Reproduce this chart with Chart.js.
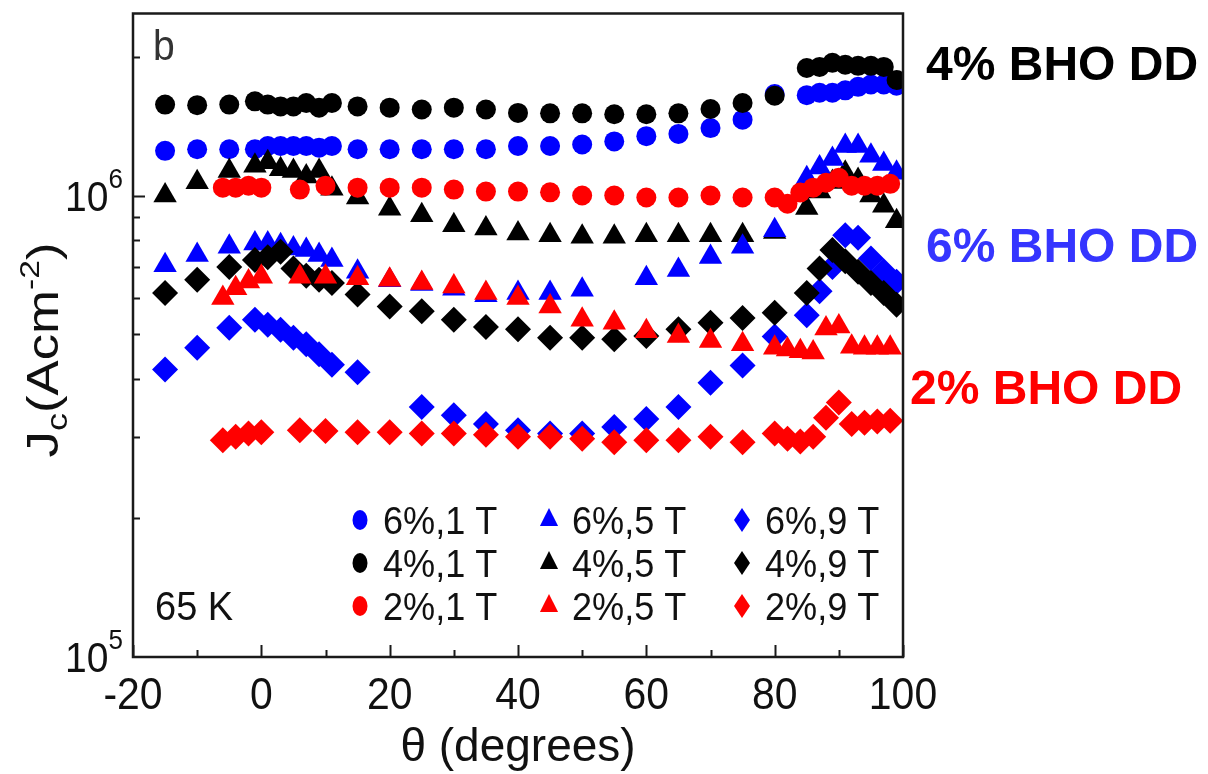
<!DOCTYPE html>
<html>
<head>
<meta charset="utf-8">
<script src="https://cdn.jsdelivr.net/npm/chart.js@4.4.1/dist/chart.umd.min.js"></script>
<style>
  html, body { margin: 0; padding: 0; background: #fff; }
  #wrap { width: 1208px; height: 774px; }
</style>
</head>
<body>
<div id="wrap"><canvas id="c" width="1208" height="774"></canvas></div>
<script>
// angle grids (degrees) and Jc values (A/cm^2)
const theta_6_1 = [-15,-10,-5,-1,1,3,5,7,9,11,15,20,25,30,35,40,45,50,55,60,65,70,75,80,85,87,89,91,93,95,97,99];
const jc_6_1 = [1.25e6,1.26e6,1.26e6,1.26e6,1.28e6,1.28e6,1.28e6,1.28e6,1.27e6,1.28e6,1.26e6,1.26e6,1.26e6,1.26e6,1.26e6,1.28e6,1.28e6,1.29e6,1.31e6,1.345e6,1.36e6,1.40e6,1.46e6,1.66e6,1.65e6,1.67e6,1.67e6,1.69e6,1.72e6,1.74e6,1.74e6,1.73e6];

const theta_6_5 = [-15,-10,-5,-1,1,3,5,7,9,11,15,20,25,30,35,40,45,50,60,65,70,75,80,85,87,89,91,93,95,97,99];
const jc_6_5 = [7.06e5,7.43e5,7.74e5,7.87e5,7.87e5,7.80e5,7.68e5,7.62e5,7.43e5,7.25e5,6.84e5,6.55e5,6.43e5,6.28e5,6.08e5,6.15e5,6.15e5,6.25e5,6.62e5,6.90e5,7.36e5,7.74e5,8.41e5,1.09e6,1.15e6,1.20e6,1.28e6,1.28e6,1.22e6,1.17e6,1.12e6];

const theta_6_9 = [-15,-10,-5,-1,1,3,5,7,9,11,15,25,30,35,40,45,50,55,60,65,70,75,80,85,87,89,91,93,95,97,99];
const jc_6_9 = [4.20e5,4.68e5,5.17e5,5.38e5,5.25e5,5.12e5,4.92e5,4.76e5,4.53e5,4.30e5,4.14e5,3.48e5,3.34e5,3.20e5,3.10e5,3.05e5,3.05e5,3.15e5,3.28e5,3.48e5,3.93e5,4.28e5,4.95e5,5.50e5,6.20e5,7.00e5,8.20e5,8.10e5,7.30e5,6.85e5,6.50e5];

const theta_4_1 = [-15,-10,-5,-1,1,3,5,7,9,11,15,20,25,30,35,40,45,50,55,60,65,70,75,80,85,87,89,91,93,95,97,99];
const jc_4_1 = [1.574e6,1.57e6,1.574e6,1.60e6,1.574e6,1.56e6,1.56e6,1.587e6,1.55e6,1.587e6,1.56e6,1.55e6,1.536e6,1.55e6,1.536e6,1.51e6,1.507e6,1.507e6,1.50e6,1.50e6,1.507e6,1.54e6,1.587e6,1.645e6,1.89e6,1.90e6,1.94e6,1.92e6,1.91e6,1.91e6,1.90e6,1.78e6];

const theta_4_5 = [-15,-10,-5,-1,1,3,5,7,9,11,15,20,25,30,35,40,45,50,55,60,65,70,75,80,85,87,89,91,93,95,97,99];
const jc_4_5 = [1.0e6,1.068e6,1.13e6,1.16e6,1.18e6,1.14e6,1.13e6,1.10e6,1.13e6,1.034e6,9.9e5,9.36e5,9.06e5,8.62e5,8.48e5,8.27e5,8.2e5,8.14e5,8.14e5,8.2e5,8.2e5,8.2e5,8.2e5,8.34e5,9.4e5,1.02e6,1.07e6,1.12e6,1.08e6,1.0e6,9.5e5,8.8e5];

const theta_4_9 = [-15,-10,-5,-1,1,3,5,7,9,11,15,20,25,30,35,40,45,50,55,60,65,70,75,80,85,87,89,91,93,95,97,99];
const jc_4_9 = [6.15e5,6.57e5,7.0e5,7.25e5,7.35e5,7.55e5,6.95e5,6.7e5,6.57e5,6.46e5,6.1e5,5.75e5,5.61e5,5.38e5,5.19e5,5.13e5,4.92e5,4.92e5,4.88e5,4.96e5,5.13e5,5.3e5,5.43e5,5.57e5,6.15e5,6.95e5,7.62e5,7.2e5,6.84e5,6.46e5,6.15e5,5.8e5];

const theta_2_1 = [-6,-4,-2,0,6,10,15,20,25,30,35,40,45,50,55,60,65,70,75,80,82,84,86,88,90,92,94,96,98];
const jc_2_1 = [1.04e6,1.04e6,1.05e6,1.04e6,1.03e6,1.05e6,1.04e6,1.04e6,1.04e6,1.03e6,1.02e6,1.02e6,1.016e6,1.0e6,1.0e6,9.9e5,9.9e5,1.0e6,9.9e5,9.9e5,9.6e5,1.015e6,1.04e6,1.066e6,1.093e6,1.05e6,1.05e6,1.05e6,1.06e6];

const theta_2_5 = [-6,-4,-2,0,6,10,15,20,25,30,35,40,45,50,55,60,65,70,75,80,82,84,86,88,90,92,94,96,98];
const jc_2_5 = [6.0e5,6.3e5,6.51e5,6.67e5,6.67e5,6.67e5,6.62e5,6.57e5,6.46e5,6.35e5,6.15e5,6.0e5,5.75e5,5.38e5,5.3e5,5.08e5,4.96e5,4.84e5,4.76e5,4.68e5,4.64e5,4.6e5,4.57e5,5.15e5,5.2e5,4.7e5,4.68e5,4.68e5,4.68e5];

const theta_2_9 = [-6,-4,-2,0,6,10,15,20,25,30,35,40,45,50,55,60,65,70,75,80,82,84,86,88,90,92,94,96,98];
const jc_2_9 = [2.95e5,3.0e5,3.05e5,3.07e5,3.1e5,3.09e5,3.07e5,3.07e5,3.05e5,3.05e5,3.03e5,3.0e5,3.0e5,2.97e5,2.92e5,2.95e5,2.95e5,3.0e5,2.92e5,3.05e5,2.97e5,2.93e5,3.0e5,3.3e5,3.56e5,3.2e5,3.22e5,3.24e5,3.25e5];

const xTickLabels = ['-20', '0', '20', '40', '60', '80', '100'];
const seriesLabels = ['6%,1 T', '6%,5 T', '6%,9 T', '4%,1 T', '4%,5 T', '4%,9 T', '2%,1 T', '2%,5 T', '2%,9 T'];
const sampleLabels = ['4% BHO DD', '6% BHO DD', '2% BHO DD'];

const BLUE = '#0000ff', BLACK = '#000000', RED = '#ff0000';
const FONT = '"Liberation Sans", Arial, Helvetica, sans-serif';

function pts(xs, ys) {
  return xs.map((x, i) => ({ x: x, y: ys[i] }));
}

// style for each marker shape: [pointStyle, radius in plot, legend radius, legend width]
const shapes = {
  circle: ['circle', 10, 10, 15],
  triangle: ['triangle', 13.5, 12, 21],
  diamond: ['rectRot', 13, 12, 16]
};

function series(label, xs, ys, color, shape, order) {
  const s = shapes[shape];
  return {
    label: label,
    data: pts(xs, ys),
    showLine: false,
    pointStyle: s[0],
    pointRadius: s[1],
    pointHoverRadius: s[1],
    pointBorderWidth: 0,
    backgroundColor: color,
    borderColor: color,
    clip: 0,
    order: order,
    legendRadius: s[2],
    legendWidth: s[3]
  };
}

// lower order is drawn on top
const datasets = [
  series(seriesLabels[0], theta_6_1, jc_6_1, BLUE, 'circle', 9),
  series(seriesLabels[1], theta_6_5, jc_6_5, BLUE, 'triangle', 6),
  series(seriesLabels[2], theta_6_9, jc_6_9, BLUE, 'diamond', 5),
  series(seriesLabels[3], theta_4_1, jc_4_1, BLACK, 'circle', 8),
  series(seriesLabels[4], theta_4_5, jc_4_5, BLACK, 'triangle', 7),
  series(seriesLabels[5], theta_4_9, jc_4_9, BLACK, 'diamond', 4),
  series(seriesLabels[6], theta_2_1, jc_2_1, RED, 'circle', 3),
  series(seriesLabels[7], theta_2_5, jc_2_5, RED, 'triangle', 2),
  series(seriesLabels[8], theta_2_9, jc_2_9, RED, 'diamond', 1)
];

// draw a run of text pieces (sub/superscripts) with optional horizontal squeeze
function rich(ctx, segs, x, y, o) {
  o = o || {};
  ctx.save();
  ctx.translate(x, y);
  if (o.rot) ctx.rotate(o.rot);
  ctx.scale(o.sx || 1, 1);
  ctx.fillStyle = o.color || '#111';
  ctx.textBaseline = 'alphabetic';
  ctx.textAlign = 'left';
  const weight = o.bold ? 'bold ' : '';
  let w = 0;
  segs.forEach(s => { ctx.font = weight + s.size + 'px ' + FONT; s.w = ctx.measureText(s.t).width; w += s.w; });
  let cx = o.align === 'center' ? -w / 2 : (o.align === 'right' ? -w : 0);
  segs.forEach(s => { ctx.font = weight + s.size + 'px ' + FONT; ctx.fillText(s.t, cx, s.dy || 0); cx += s.w; });
  ctx.restore();
}

function marker(ctx, ds, x, y) {
  ctx.save();
  ctx.fillStyle = ds.backgroundColor;
  const opts = { pointStyle: ds.pointStyle, rotation: 0, radius: ds.legendRadius, borderWidth: 0 };
  if (Chart.helpers && Chart.helpers.drawPointLegend) {
    Chart.helpers.drawPointLegend(ctx, opts, x, y, ds.legendWidth);
  } else {
    ctx.beginPath();
    ctx.ellipse(x, y, ds.legendWidth / 2, ds.legendRadius, 0, 0, Math.PI * 2);
    ctx.fill();
  }
  ctx.restore();
}

const decor = {
  id: 'decor',
  afterDatasetsDraw(chart) {
    const ctx = chart.ctx;
    const a = chart.chartArea;
    const xs = chart.scales.x, ys = chart.scales.y;

    // frame
    ctx.save();
    ctx.strokeStyle = '#1a1a1a';
    ctx.lineWidth = 2.5;
    ctx.strokeRect(a.left, a.top, a.right - a.left, a.bottom - a.top);

    // inward ticks on bottom axis
    ctx.lineWidth = 2;
    ctx.beginPath();
    xs.ticks.forEach(t => {
      const px = Math.round(xs.getPixelForValue(t.value)) + 0.5;
      const len = (t.value % 20 === 0) ? 12 : 7;
      ctx.moveTo(px, a.bottom);
      ctx.lineTo(px, a.bottom - len);
    });
    // inward ticks on left axis
    ys.ticks.forEach(t => {
      const v = t.value;
      const m = v / Math.pow(10, Math.floor(Math.log10(v) + 1e-9));
      if (Math.abs(m - Math.round(m)) > 1e-6) return;
      const py = Math.round(ys.getPixelForValue(v)) + 0.5;
      if (py < a.top + 2 || py > a.bottom - 2) return;
      const len = Math.round(m) === 1 ? 12 : 7;
      ctx.moveTo(a.left, py);
      ctx.lineTo(a.left + len, py);
    });
    ctx.stroke();
    ctx.restore();

    // x tick labels
    xs.ticks.forEach(t => {
      if (t.value % 20 !== 0) return;
      const lbl = xTickLabels[(t.value + 20) / 20];
      rich(ctx, [{ t: lbl, size: 44 }], xs.getPixelForValue(t.value), 709, { align: 'center', sx: 0.93 });
    });
    // y tick labels (decades)
    [[1e5, '5'], [1e6, '6']].forEach(d => {
      const py = ys.getPixelForValue(d[0]);
      rich(ctx, [{ t: '10', size: 42 }, { t: d[1], size: 28, dy: -23 }], 123, py + 15, { align: 'right', sx: 0.93 });
    });

    // axis titles
    rich(ctx, [{ t: '\u03B8 (degrees)', size: 46 }], (a.left + a.right) / 2, 761, { align: 'center' });
    rich(ctx, [
      { t: 'J', size: 44 }, { t: 'c', size: 30, dy: 9 }, { t: '(Acm', size: 44 },
      { t: '-2', size: 28, dy: -19 }, { t: ')', size: 44 }
    ], 58, 350, { align: 'center', rot: -Math.PI / 2, sx: 1.2 });

    // panel letter and temperature
    rich(ctx, [{ t: 'b', size: 42 }], a.left + 20, 60, { color: '#333', sx: 0.93 });
    rich(ctx, [{ t: '65 K', size: 40 }], a.left + 22, 620, { sx: 0.95 });

    // legend 3 x 3
    const colX = [360, 549, 742];
    const rowY = [520, 563, 606];
    chart.data.datasets.forEach((ds, i) => {
      const r = Math.floor(i / 3), c = i % 3;
      marker(ctx, ds, colX[c], rowY[r]);
      rich(ctx, [{ t: ds.label, size: 38 }], colX[c] + 23, rowY[r] + 14, { sx: 0.95 });
    });

    // sample labels on the right
    rich(ctx, [{ t: sampleLabels[0], size: 48 }], 926, 80, { bold: true, color: '#000000' });
    rich(ctx, [{ t: sampleLabels[1], size: 48 }], 926, 262, { bold: true, color: '#3535ff' });
    rich(ctx, [{ t: sampleLabels[2], size: 48 }], 910, 404, { bold: true, color: '#ff0000' });
  }
};

const chart = new Chart(document.getElementById('c'), {
  type: 'scatter',
  data: { datasets: datasets },
  options: {
    responsive: false,
    animation: false,
    devicePixelRatio: 1,
    layout: { padding: { top: 8, right: 305, left: 0, bottom: 0 } },
    plugins: { legend: { display: false }, tooltip: { enabled: false } },
    scales: {
      x: {
        type: 'linear', min: -20, max: 100,
        ticks: { display: false, stepSize: 10 },
        grid: { display: false }, border: { display: false },
        afterFit(s) { s.height = 117; }
      },
      y: {
        type: 'logarithmic', min: 1e5, max: 2.48e6,
        ticks: { display: false },
        grid: { display: false }, border: { display: false },
        afterFit(s) { s.width = 133; }
      }
    }
  },
  plugins: [decor]
});
</script>
</body>
</html>
